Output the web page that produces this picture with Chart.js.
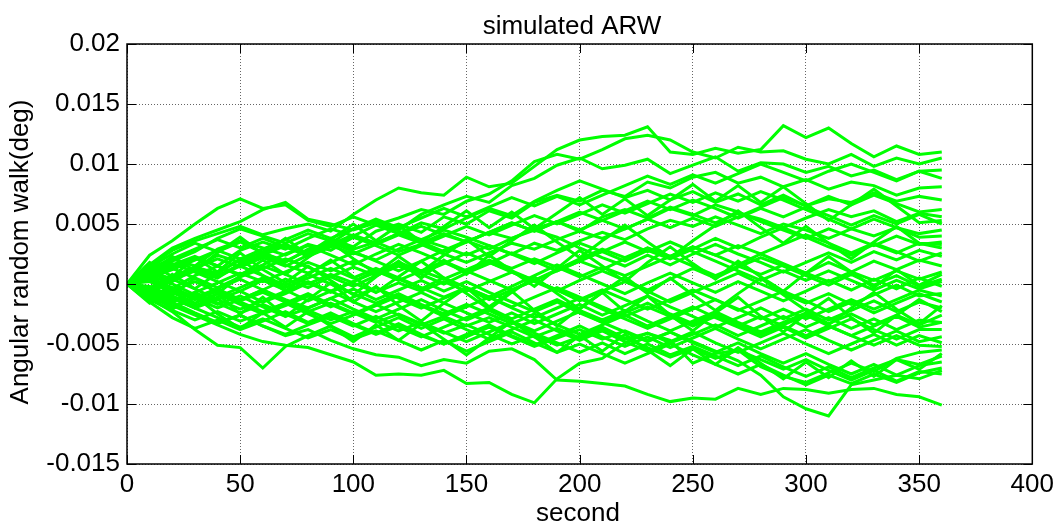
<!DOCTYPE html>
<html>
<head>
<meta charset="utf-8">
<title>simulated ARW</title>
<script src="https://cdn.jsdelivr.net/npm/chart.js@4/dist/chart.umd.min.js"></script>
<style>
  html, body { margin: 0; padding: 0; background: #fff; }
  canvas { display: block; }
</style>
</head>
<body>
<canvas id="arwChart" width="1059" height="524"></canvas>
<script>
// time axis (s) and tick positions
const seconds = [0, 10, 20, 30, 40, 50, 60, 70, 80, 90, 100, 110, 120, 130, 140, 150, 160, 170, 180,
  190, 200, 210, 220, 230, 240, 250, 260, 270, 280, 290, 300, 310, 320, 330, 340, 350, 360];
const secondTicks = [0, 50, 100, 150, 200, 250, 300, 350, 400];
const arwTicks = [-0.015, -0.01, -0.005, 0, 0.005, 0.01, 0.015, 0.02];

// angle random walk runs, in millidegrees
const run01 = [0, 1.5, 2.8, 3.6, 4.2, 4.8, 4.1, 4.6, 5.0, 4.4, 5.8, 7.0, 8.0, 7.6, 7.4, 8.9, 8.1, 8.4, 9.8, 11.2, 12.0, 12.3, 12.4, 13.1, 11.0, 10.8, 11.3, 10.9, 11.2, 13.2, 12.2, 13.0, 11.7, 10.6, 11.5, 10.8, 11.0];
const run02 = [0, 0.8, 1.6, 2.3, 1.5, 2.8, 3.5, 2.9, 3.8, 4.6, 4.0, 4.9, 5.5, 6.2, 5.8, 6.9, 7.5, 8.6, 10.2, 10.8, 10.4, 11.2, 12.1, 12.4, 12.0, 11.0, 10.5, 11.4, 11.0, 11.1, 10.4, 10.0, 10.8, 9.8, 10.5, 10.0, 10.5];
const run03 = [0, -0.5, 0.6, 1.4, 0.9, 2.0, 2.6, 1.8, 2.9, 3.4, 4.6, 5.2, 4.5, 5.8, 6.6, 7.3, 6.8, 8.2, 8.8, 9.9, 10.5, 9.6, 9.9, 10.4, 9.2, 9.9, 10.6, 9.4, 10.1, 10.0, 9.3, 9.8, 9.0, 9.5, 8.7, 9.4, 9.5];
const run04 = [0, 0.9, 0.2, 1.3, 2.4, 1.8, 2.7, 3.3, 2.6, 3.8, 3.1, 4.4, 5.0, 4.3, 5.6, 5.0, 6.1, 5.5, 6.8, 7.4, 6.9, 7.8, 7.3, 8.5, 8.0, 8.9, 9.3, 8.4, 8.9, 8.1, 8.7, 7.9, 8.5, 8.2, 7.4, 8.0, 8.1];
const run05 = [0, 1.2, 2.1, 1.5, 2.9, 3.6, 3.0, 2.4, 3.3, 2.8, 3.9, 3.4, 4.2, 5.1, 4.6, 5.5, 6.3, 5.7, 6.9, 7.8, 8.6, 7.9, 7.2, 7.8, 7.0, 7.7, 6.8, 7.5, 6.6, 7.4, 6.5, 7.1, 6.8, 7.6, 6.9, 7.3, 7.0];
const run06 = [0, 2.4, 3.6, 5.0, 6.3, 7.1, 6.3, 6.6, 5.3, 4.8, 5.6, 4.9, 4.2, 4.8, 4.1, 3.5, 4.3, 3.8, 4.6, 5.2, 4.4, 5.6, 6.2, 5.5, 6.4, 5.8, 5.1, 5.9, 5.4, 4.7, 5.5, 6.2, 5.6, 6.1, 5.2, 5.9, 5.6];
const run07 = [0, 1.6, 3.0, 3.8, 4.5, 5.2, 6.2, 6.8, 5.4, 5.0, 4.5, 5.1, 4.4, 3.7, 4.5, 3.9, 3.2, 2.5, 3.4, 2.8, 3.6, 4.3, 3.7, 4.6, 5.3, 4.8, 5.6, 4.9, 4.2, 5.0, 4.5, 3.8, 4.6, 4.0, 4.7, 4.2, 4.5];
const run08 = [0, 1.0, 1.9, 2.7, 3.8, 4.6, 4.0, 3.4, 4.2, 3.6, 2.9, 3.5, 2.7, 3.3, 2.5, 1.8, 2.6, 3.4, 2.9, 3.7, 4.4, 3.8, 4.6, 5.4, 6.3, 5.7, 6.6, 6.0, 5.2, 4.5, 3.8, 4.6, 3.9, 3.2, 4.0, 3.3, 3.5];
const run09 = [0, -0.8, 0.3, 1.1, 0.5, 1.7, 2.4, 1.6, 0.9, 1.8, 2.6, 2.0, 2.9, 3.7, 3.1, 2.4, 3.2, 2.5, 1.7, 2.6, 3.4, 2.7, 1.9, 2.8, 2.1, 2.9, 3.8, 3.0, 3.9, 4.7, 3.9, 3.1, 2.4, 3.3, 2.6, 3.4, 3.0];
const run10 = [0, 1.4, 2.5, 3.4, 2.7, 3.5, 2.6, 1.9, 2.8, 3.5, 2.7, 1.9, 1.1, 1.9, 2.8, 3.6, 2.9, 3.8, 4.5, 3.9, 3.0, 2.2, 1.5, 2.4, 1.6, 2.5, 3.3, 2.5, 1.8, 1.0, 1.8, 2.6, 1.8, 2.7, 2.0, 2.8, 2.3];
const run11 = [0, 0.6, -0.4, 0.7, 1.5, 0.8, 1.6, 2.5, 3.2, 2.4, 1.6, 2.5, 3.3, 2.6, 1.8, 1.0, 1.8, 1.1, 0.3, 1.2, 2.1, 2.9, 2.2, 3.0, 2.3, 1.5, 0.7, 1.5, 0.8, 1.6, 0.9, 0.2, 1.0, 1.9, 1.2, 2.0, 1.5];
const run12 = [0, -1.1, -1.9, -1.2, -0.4, -1.3, -0.5, 0.4, -0.3, 0.6, 1.4, 0.7, 1.5, 0.8, 0.0, 0.9, 1.7, 2.6, 1.9, 1.1, 1.9, 1.2, 2.1, 3.0, 2.3, 3.1, 2.4, 1.6, 2.5, 1.7, 0.9, 1.8, 1.0, 0.3, 1.1, 0.4, 1.0];
const run13 = [0, 0.7, 1.3, 0.5, -0.3, 0.6, 1.3, 2.1, 1.4, 0.6, -0.2, 0.7, 1.6, 0.9, 1.7, 2.6, 1.8, 1.0, 0.2, -0.6, 0.3, 1.1, 0.3, -0.5, 0.4, 1.3, 0.5, 1.4, 2.2, 1.5, 0.7, -0.1, 0.8, -0.1, 0.7, -0.2, 0.4];
const run14 = [0, -0.6, 0.4, -0.4, -1.3, -0.6, -1.5, -0.8, 0.1, -0.7, 0.2, 1.1, 0.4, -0.4, 0.5, -0.3, -1.1, -0.2, 0.7, 1.6, 0.8, 0.0, -0.8, 0.1, 0.9, 0.1, -0.7, 0.2, -0.6, -1.4, -0.6, 0.3, -0.5, 0.4, -0.4, 0.5, -0.2];
const run15 = [0, 0.3, -0.7, -1.6, -0.8, -1.7, -2.5, -1.8, -1.0, -1.9, -1.1, -0.3, -1.2, -2.0, -1.2, -0.4, -1.3, -0.5, 0.3, -0.5, -1.4, -0.6, 0.2, -0.6, -1.5, -0.7, 0.1, 0.9, 0.0, -0.8, -1.6, -0.8, -1.7, -0.9, -0.1, -1.0, -0.8];
const run16 = [0, -1.3, -2.2, -3.0, -2.3, -3.1, -2.4, -1.6, -2.5, -3.3, -2.6, -1.8, -1.0, -1.8, -2.7, -1.9, -1.1, -2.0, -2.8, -2.0, -1.2, -2.1, -2.9, -3.7, -2.9, -2.1, -1.3, -2.2, -1.4, -0.6, -1.4, -2.3, -1.5, -2.4, -1.6, -0.8, -1.5];
const run17 = [0, 0.9, 1.7, 1.0, 0.2, -0.6, 0.3, -0.5, -1.4, -0.6, -1.5, -2.3, -1.5, -0.7, -1.6, -2.4, -3.2, -2.4, -3.3, -2.5, -1.7, -2.6, -1.8, -1.0, -1.9, -2.7, -3.6, -2.8, -2.0, -2.9, -2.1, -3.0, -2.2, -1.4, -2.3, -1.5, -2.0];
const run18 = [0, -0.9, -1.6, -2.5, -3.3, -2.6, -3.5, -4.2, -3.4, -2.7, -3.5, -2.7, -3.6, -4.4, -3.6, -2.8, -2.0, -2.9, -2.1, -1.3, -2.2, -3.0, -2.2, -3.1, -3.9, -3.1, -2.3, -3.2, -4.0, -3.2, -2.4, -3.3, -2.5, -3.4, -2.6, -3.4, -2.6];
const run19 = [0, 0.5, -0.3, -1.1, -0.4, 0.4, -0.5, -1.3, -2.0, -1.2, -0.4, -1.3, -0.5, 0.3, -0.6, 0.2, -0.7, -1.5, -2.3, -1.5, -2.4, -3.2, -2.4, -1.6, -2.5, -3.3, -2.5, -3.4, -4.2, -3.4, -2.6, -3.5, -4.3, -3.5, -2.7, -3.6, -3.2];
const run20 = [0, -0.4, 0.5, 1.3, 0.6, 1.5, 0.7, -0.1, 0.8, 0.0, -0.8, -1.6, -0.8, -1.7, -2.5, -1.7, -2.5, -3.3, -2.5, -3.4, -4.2, -3.4, -2.6, -3.5, -2.7, -1.9, -2.8, -3.6, -4.4, -3.6, -4.5, -3.7, -2.9, -3.8, -4.6, -3.8, -3.8];
const run21 = [0, -1.5, -2.8, -3.7, -3.0, -3.8, -3.1, -2.3, -3.2, -2.4, -3.3, -4.1, -3.3, -4.2, -5.0, -4.2, -3.4, -4.3, -5.1, -4.3, -3.5, -4.4, -5.2, -4.4, -5.3, -4.5, -3.7, -4.6, -5.4, -4.6, -3.8, -4.7, -5.5, -4.7, -3.9, -4.8, -4.4];
const run22 = [0, -1.2, -2.3, -3.8, -5.1, -5.3, -7.0, -5.2, -4.3, -3.5, -4.4, -3.6, -2.8, -3.7, -2.9, -3.8, -4.6, -3.8, -3.0, -3.9, -4.7, -3.9, -4.8, -5.6, -4.8, -4.0, -4.9, -5.7, -4.9, -4.1, -5.0, -5.8, -5.0, -4.2, -5.1, -4.3, -4.9];
const run23 = [0, -0.9, -1.8, -2.6, -3.4, -4.2, -4.8, -5.1, -5.3, -5.9, -6.5, -7.6, -7.5, -7.6, -7.2, -8.3, -8.2, -9.2, -9.9, -7.9, -6.6, -6.2, -4.9, -4.1, -4.9, -4.2, -3.4, -4.3, -3.5, -2.7, -3.6, -2.8, -3.7, -2.9, -3.8, -3.0, -3.2];
const run24 = [0, -0.7, -1.5, -2.4, -3.2, -2.6, -3.5, -4.3, -3.8, -4.7, -5.4, -5.9, -6.1, -6.8, -6.3, -6.6, -5.6, -5.4, -6.3, -8.0, -8.1, -8.3, -8.5, -9.2, -9.8, -9.5, -9.6, -8.7, -9.2, -8.7, -8.8, -9.1, -8.8, -8.7, -9.2, -9.4, -10.1];
const run25 = [0, -0.6, -1.4, -0.7, -1.6, -2.4, -1.7, -2.5, -3.3, -2.6, -3.4, -4.2, -3.5, -4.3, -5.0, -4.4, -3.6, -4.4, -5.2, -4.5, -3.8, -4.6, -3.9, -4.7, -4.0, -4.8, -5.6, -6.4, -7.6, -9.4, -10.4, -11.0, -8.4, -8.0, -7.6, -7.9, -7.2];
const run26 = [0, 0.4, -0.5, -1.3, -0.6, -1.5, -2.3, -1.6, -0.8, -1.7, -2.5, -1.7, -2.6, -3.4, -2.7, -3.5, -2.8, -3.6, -4.4, -3.7, -4.5, -3.8, -4.6, -4.1, -4.7, -6.6, -5.8, -5.5, -6.9, -7.7, -8.2, -7.4, -6.6, -7.3, -6.2, -5.7, -5.5];
const run27 = [0, -1.0, -0.3, -1.2, -2.0, -1.3, -0.5, -1.4, -2.2, -3.0, -2.3, -3.1, -3.9, -3.2, -4.0, -4.8, -4.0, -3.2, -4.1, -4.9, -5.7, -4.9, -5.8, -5.0, -5.9, -5.2, -6.0, -6.8, -6.0, -6.9, -7.7, -6.9, -7.8, -7.0, -6.3, -6.7, -6.0];
const run28 = [0, 0.7, 0.0, -0.9, -1.7, -1.0, -1.9, -2.7, -2.0, -1.2, -2.1, -2.9, -2.1, -1.3, -2.2, -3.0, -2.2, -3.1, -3.9, -3.1, -2.3, -3.2, -4.0, -4.8, -4.0, -4.9, -5.7, -4.9, -5.8, -6.6, -5.8, -6.7, -7.5, -6.7, -7.6, -6.8, -6.5];
const run29 = [0, -0.5, -1.2, -2.0, -2.8, -3.6, -2.9, -3.7, -4.5, -3.8, -4.6, -3.9, -4.7, -5.5, -4.7, -5.6, -4.8, -4.0, -4.9, -5.7, -5.0, -5.8, -6.6, -5.8, -5.0, -5.9, -6.7, -7.5, -6.7, -7.6, -8.4, -7.6, -8.3, -7.5, -8.2, -7.4, -7.0];
const run30 = [0, 0.2, -0.6, 0.2, -0.6, -1.4, -0.7, -1.5, -2.3, -1.6, -2.4, -3.2, -2.5, -3.3, -4.1, -3.4, -4.2, -5.0, -4.3, -5.1, -4.4, -3.6, -4.5, -5.3, -6.1, -5.4, -6.2, -5.5, -6.3, -7.1, -6.3, -7.2, -8.0, -7.2, -8.1, -7.3, -7.5];
const run31 = [0, 1.1, 0.4, 1.3, 2.1, 1.4, 2.2, 1.5, 2.4, 3.2, 2.5, 3.3, 4.1, 3.4, 4.2, 3.5, 4.3, 5.1, 4.4, 5.2, 6.0, 5.3, 6.1, 6.9, 6.2, 7.0, 6.3, 5.5, 6.3, 5.6, 6.4, 5.7, 4.9, 5.7, 5.0, 5.8, 5.0];
const run32 = [0, -0.3, 0.6, 1.4, 0.7, 1.6, 2.4, 3.2, 2.5, 3.3, 4.1, 3.4, 4.2, 3.5, 2.7, 3.5, 4.3, 5.1, 4.4, 5.2, 4.5, 5.3, 4.6, 5.4, 4.7, 5.5, 4.8, 5.6, 6.4, 7.2, 6.5, 7.3, 6.6, 7.4, 6.7, 6.0, 6.2];
const run33 = [0, -0.8, -1.5, -0.7, 0.1, 0.9, 0.2, 1.0, 1.8, 1.1, 1.9, 1.1, 0.3, 1.1, 0.4, 1.2, 2.0, 1.3, 2.1, 1.4, 0.6, 1.4, 0.7, 1.5, 2.3, 3.1, 2.4, 3.2, 2.5, 3.3, 4.1, 3.4, 2.6, 3.4, 2.7, 1.9, 2.6];
const run34 = [0, 0.6, 1.4, 2.2, 1.5, 0.7, 1.5, 0.8, 0.0, 0.8, 0.1, -0.7, 0.1, -0.6, 0.2, -0.6, 0.2, 1.0, 0.3, -0.5, -1.3, -0.5, -1.3, -2.1, -1.3, -0.5, -1.3, -2.1, -2.9, -2.1, -2.9, -2.1, -1.3, -2.1, -1.3, -0.5, -1.0];
const run35 = [0, -0.4, -1.2, -2.0, -1.3, -2.1, -1.4, -0.6, 0.2, -0.6, 0.2, 1.0, 1.8, 1.1, 1.9, 1.1, 0.3, -0.5, 0.3, 1.1, 1.9, 2.7, 3.5, 2.7, 3.5, 2.7, 1.9, 1.1, 0.3, 1.1, 0.3, 1.1, 0.3, -0.5, 0.3, -0.4, 0.2];
const run36 = [0, -0.2, -1.0, -1.8, -1.1, -0.3, 0.5, -0.3, 0.5, 1.3, 0.5, 1.3, 0.5, -0.3, -1.1, -0.3, -1.1, -1.9, -1.1, -0.3, -1.1, -1.9, -2.7, -1.9, -2.7, -3.5, -2.7, -3.5, -2.7, -3.5, -4.3, -3.5, -4.3, -5.1, -4.3, -5.1, -5.2];
const run37 = [0, 0.5, 1.2, 2.0, 2.8, 2.1, 2.9, 3.7, 4.5, 3.8, 4.6, 5.4, 4.7, 5.5, 6.3, 5.6, 6.4, 7.2, 6.5, 7.3, 6.6, 7.4, 8.2, 9.0, 8.3, 9.1, 8.4, 9.2, 10.0, 9.3, 8.6, 9.4, 10.0, 9.3, 8.6, 9.4, 8.8];
const run38 = [0, 1.3, 2.1, 2.9, 3.7, 3.0, 3.8, 3.1, 2.3, 3.1, 3.9, 3.2, 2.4, 3.2, 4.0, 4.8, 4.1, 4.9, 5.7, 5.0, 5.8, 6.6, 5.9, 6.7, 7.5, 6.8, 7.6, 6.9, 7.7, 7.0, 6.2, 5.4, 4.6, 5.4, 4.7, 3.9, 4.0];
const run39 = [0, 1.8, 0.6, 2.2, 1.0, 2.6, 1.2, 0.1, 1.5, 0.3, -0.9, 0.6, 1.9, 0.5, 2.0, 0.8, 2.4, 1.1, -0.2, 1.3, 2.8, 1.5, 0.2, 1.8, 3.1, 1.7, 0.4, 1.9, 0.6, -0.6, 0.9, 2.3, 1.0, -0.3, 1.2, -0.1, 0.8];
const run40 = [0, -1.6, -0.4, -2.0, -0.8, -2.5, -1.1, -2.7, -1.3, 0.1, -1.5, -0.2, -1.8, -3.1, -1.6, -0.3, -1.9, -0.6, -2.2, -3.5, -2.0, -0.7, -2.3, -1.0, -2.6, -3.9, -2.4, -1.1, -2.7, -4.0, -2.5, -1.2, -2.8, -4.1, -2.6, -1.3, -2.3];
const run41 = [0, 0.9, 2.3, 1.1, 2.6, 3.9, 2.5, 3.8, 2.4, 3.7, 5.0, 3.6, 4.9, 3.5, 4.8, 6.1, 4.7, 6.0, 4.6, 5.9, 7.2, 5.8, 7.1, 5.7, 7.0, 8.3, 6.9, 8.2, 6.8, 8.1, 6.7, 5.3, 6.6, 7.9, 6.5, 5.1, 5.3];
const run42 = [0, -0.7, -2.1, -1.0, -2.5, -3.7, -2.4, -3.6, -2.3, -3.5, -4.8, -3.4, -4.7, -3.3, -4.6, -5.9, -4.5, -3.1, -4.4, -5.7, -4.3, -5.6, -4.2, -5.5, -6.8, -5.4, -6.7, -5.3, -6.6, -7.9, -6.5, -7.8, -6.4, -7.7, -6.3, -7.1, -5.8];
const run43 = [0, 0.4, -0.9, 0.5, -0.8, 0.7, 2.0, 0.8, 2.2, 3.5, 2.1, 0.9, 2.3, 1.0, 2.4, 3.7, 2.3, 3.6, 4.9, 3.5, 2.2, 3.6, 4.9, 3.5, 2.2, 3.6, 4.9, 6.1, 4.7, 3.4, 4.8, 3.4, 2.1, 3.5, 4.8, 3.4, 3.3];
const run44 = [0, -0.5, 0.8, -0.4, 0.9, 2.1, 0.7, -0.6, 0.8, 2.0, 0.6, -0.7, 0.6, 1.9, 0.5, -0.8, -2.1, -0.7, 0.6, -0.8, -2.1, -0.7, 0.6, -0.8, 0.5, -0.9, -2.2, -0.8, 0.5, -0.9, -2.2, -3.4, -2.0, -0.7, -2.1, -3.3, -1.8];

const runs = [run01, run02, run03, run04, run05, run06, run07, run08, run09, run10,
  run11, run12, run13, run14, run15, run16, run17, run18, run19, run20,
  run21, run22, run23, run24, run25, run26, run27, run28, run29, run30,
  run31, run32, run33, run34, run35, run36, run37, run38, run39, run40,
  run41, run42, run43, run44];

const FONT = '"Liberation Sans", Arial, sans-serif';

// box, inward ticks and text labels drawn on top, like a MATLAB axes
const axesDecor = {
  id: 'axesDecor',
  afterDraw(chart) {
    const { ctx, chartArea: a, scales } = chart;
    const len = 9;
    ctx.save();
    ctx.strokeStyle = '#000';
    ctx.lineWidth = 1;
    ctx.beginPath();
    secondTicks.forEach(v => {
      const px = Math.round(scales.x.getPixelForValue(v)) + 0.5;
      ctx.moveTo(px, a.bottom); ctx.lineTo(px, a.bottom - len);
      ctx.moveTo(px, a.top); ctx.lineTo(px, a.top + len);
    });
    arwTicks.forEach(v => {
      const py = Math.round(scales.y.getPixelForValue(v)) + 0.5;
      ctx.moveTo(a.left, py); ctx.lineTo(a.left + len, py);
      ctx.moveTo(a.right, py); ctx.lineTo(a.right - len, py);
    });
    ctx.stroke();
    ctx.lineWidth = 1.5;
    ctx.strokeRect(a.left, a.top, a.right - a.left, a.bottom - a.top);

    ctx.fillStyle = '#000';
    ctx.font = '26px ' + FONT;
    ctx.textAlign = 'center';
    ctx.textBaseline = 'alphabetic';
    ctx.fillText('simulated ARW', 572, 34);
    ctx.fillText('second', 578, 521);
    ctx.translate(28, 252);
    ctx.rotate(-Math.PI / 2);
    ctx.fillText('Angular random walk(deg)', 0, 0);
    ctx.restore();
  }
};

window.onload = function() {
  const ctx = document.getElementById('arwChart').getContext('2d');
  new Chart(ctx, {
    type: 'line',
    data: {
      datasets: runs.map(run => ({
        data: run.map((v, i) => ({ x: seconds[i], y: v / 1000 })),
        borderColor: '#00ff00',
        borderWidth: 3,
        pointRadius: 0,
        tension: 0,
        fill: false
      }))
    },
    options: {
      responsive: false,
      animation: false,
      events: [],
      layout: { padding: { top: 44, right: 25, left: 0, bottom: 0 } },
      plugins: {
        legend: { display: false },
        tooltip: { enabled: false },
        title: { display: false }
      },
      scales: {
        x: {
          type: 'linear',
          min: 0,
          max: 400,
          afterBuildTicks: s => { s.ticks = secondTicks.map(v => ({ value: v })); },
          afterFit: s => { s.height = 60; },
          ticks: {
            color: '#000',
            font: { family: FONT, size: 26 },
            padding: 5,
            maxRotation: 0,
            callback: v => String(v)
          },
          grid: { color: 'rgba(0,0,0,0.6)', lineWidth: 1, drawTicks: false },
          border: { display: false, dash: [1, 2] }
        },
        y: {
          type: 'linear',
          min: -0.015,
          max: 0.02,
          afterBuildTicks: s => { s.ticks = arwTicks.map(v => ({ value: v })); },
          afterFit: s => { s.width = 127; },
          ticks: {
            color: '#000',
            font: { family: FONT, size: 26 },
            padding: 7,
            callback: v => String(+Number(v).toFixed(3))
          },
          grid: { color: 'rgba(0,0,0,0.6)', lineWidth: 1, drawTicks: false },
          border: { display: false, dash: [1, 2] }
        }
      }
    },
    plugins: [axesDecor]
  });
};
</script>
</body>
</html>
